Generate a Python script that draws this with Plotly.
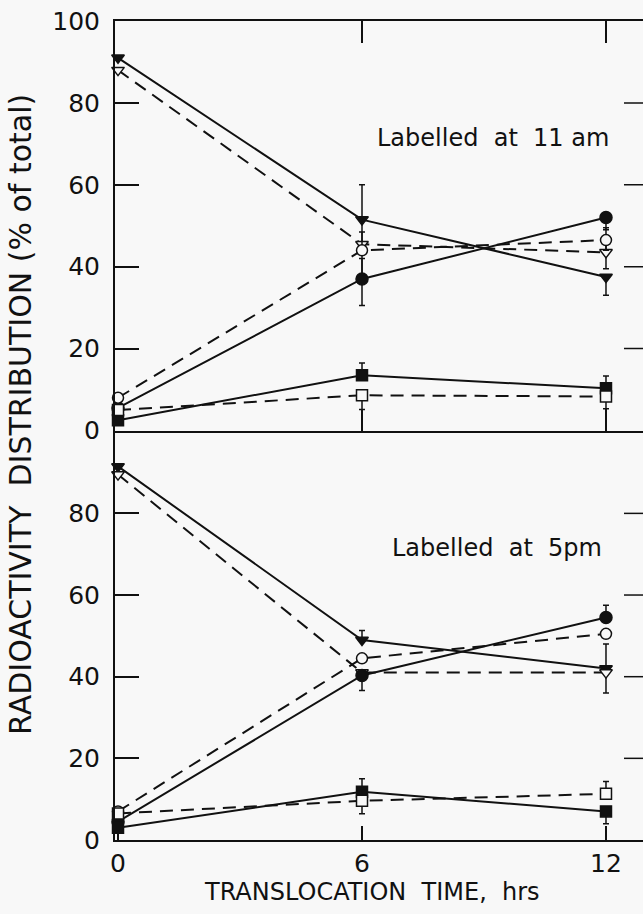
import plotly.graph_objects as go

# Sampling times (h after the end of the labelling period)
hours = [0, 6, 12]

# Panel 1 - labelled at 11 am (% of total radioactivity)
am_tri_filled = [91.0, 51.5, 37.5]
am_tri_open = [88.0, 45.5, 43.5]
am_circ_filled = [5.5, 37.0, 52.0]
am_circ_open = [8.0, 44.0, 46.5]
am_sq_filled = [2.5, 13.5, 10.3]
am_sq_open = [5.0, 8.6, 8.3]

am_tri_filled_up = [0, 8.5, 0]
am_tri_filled_dn = [0, 0, 4.5]
am_tri_open_up = [0, 3, 4]
am_tri_open_dn = [0, 0, 4]
am_circ_filled_up = [0, 5, 0]
am_circ_filled_dn = [0, 6.5, 3]
am_circ_open_up = [0, 8, 3]
am_circ_open_dn = [0, 6, 2.5]
am_sq_filled_up = [0, 3, 3]
am_sq_filled_dn = [0, 0, 0]
am_sq_open_up = [0, 0, 0]
am_sq_open_dn = [0, 3.5, 3]

# Panel 2 - labelled at 5 pm
pm_tri_filled = [91.5, 49.0, 42.0]
pm_tri_open = [89.5, 41.0, 41.0]
pm_circ_filled = [4.5, 40.3, 54.5]
pm_circ_open = [7.0, 44.5, 50.5]
pm_sq_filled = [3.0, 11.8, 7.0]
pm_sq_open = [6.5, 9.6, 11.3]

pm_tri_filled_up = [0, 2.3, 6]
pm_tri_filled_dn = [0, 0, 6]
pm_tri_open_up = [0, 0, 0]
pm_tri_open_dn = [0, 0, 0]
pm_circ_filled_up = [0, 0, 3]
pm_circ_filled_dn = [0, 3.7, 0]
pm_circ_open_up = [0, 0, 0]
pm_circ_open_dn = [0, 0, 0]
pm_sq_filled_up = [0, 3.2, 0]
pm_sq_filled_dn = [0, 0, 3]
pm_sq_open_up = [0, 3, 3]
pm_sq_open_dn = [0, 3.2, 0]

y_ticks_top = [0, 20, 40, 60, 80, 100]
y_ticks_bottom = [0, 20, 40, 60, 80]
y_ticks_right = [20, 40, 60, 80]
x_ticks = [0, 6, 12]

BG = "#f8f8f8"
INK = "#111111"
FONT = "DejaVu Sans"

fig = go.Figure()


def add_series(x_ax, y_ax, vals, up, dn, symbol, filled, size):
    fig.add_trace(go.Scatter(
        x=hours, y=vals, xaxis=x_ax, yaxis=y_ax,
        mode="lines+markers",
        line=dict(color=INK, width=2, dash="solid" if filled else "13px,8px"),
        marker=dict(symbol=symbol, size=size,
                    color=INK if filled else BG,
                    line=dict(color=INK, width=1.5)),
        error_y=dict(type="data", symmetric=False, array=up, arrayminus=dn,
                     color=INK, thickness=1.5, width=3),
        cliponaxis=False, showlegend=False, hoverinfo="skip",
    ))


panels = [
    ("x", "y", [
        (am_tri_filled, am_tri_filled_up, am_tri_filled_dn, "triangle-down", True, 11),
        (am_tri_open, am_tri_open_up, am_tri_open_dn, "triangle-down", False, 11),
        (am_circ_filled, am_circ_filled_up, am_circ_filled_dn, "circle", True, 12),
        (am_circ_open, am_circ_open_up, am_circ_open_dn, "circle", False, 11),
        (am_sq_filled, am_sq_filled_up, am_sq_filled_dn, "square", True, 11),
        (am_sq_open, am_sq_open_up, am_sq_open_dn, "square", False, 11),
    ]),
    ("x2", "y2", [
        (pm_tri_filled, pm_tri_filled_up, pm_tri_filled_dn, "triangle-down", True, 11),
        (pm_tri_open, pm_tri_open_up, pm_tri_open_dn, "triangle-down", False, 11),
        (pm_circ_filled, pm_circ_filled_up, pm_circ_filled_dn, "circle", True, 12),
        (pm_circ_open, pm_circ_open_up, pm_circ_open_dn, "circle", False, 11),
        (pm_sq_filled, pm_sq_filled_up, pm_sq_filled_dn, "square", True, 11),
        (pm_sq_open, pm_sq_open_up, pm_sq_open_dn, "square", False, 11),
    ]),
]

for xa, ya, series in panels:
    for vals, up, dn, sym, filled, size in series:
        add_series(xa, ya, vals, up, dn, sym, filled, size)

x_range = [-0.074, 12.91]
axis_common = dict(showgrid=False, zeroline=False, showline=True,
                   linecolor=INK, linewidth=2, ticks="inside",
                   tickcolor=INK, tickwidth=1.5,
                   tickfont=dict(family=FONT, size=25, color=INK))

# short inward tick marks along the right-hand edge of both panels
# (the frame's right edge itself falls outside the page)
right_tick_shapes = []
for yref, xdom in (("y", "x domain"), ("y2", "x2 domain")):
    for v in y_ticks_right:
        right_tick_shapes.append(dict(
            type="line", xref=xdom, yref=yref, x0=0.964, x1=1.0, y0=v, y1=v,
            line=dict(color=INK, width=1.5), layer="above"))

fig.update_layout(
    width=643, height=914,
    margin=dict(l=115, r=0, t=21, b=74),
    paper_bgcolor=BG, plot_bgcolor=BG,
    xaxis=dict(axis_common, domain=[0, 1], anchor="y", range=x_range,
               tickvals=[6, 12], ticklen=22, mirror="ticks",
               showticklabels=False),
    yaxis=dict(axis_common, domain=[0.5, 1], anchor="x", range=[0, 100],
               tickvals=y_ticks_top, ticktext=[str(v) for v in y_ticks_top],
               ticklen=24, mirror=False, ticklabelstandoff=8),
    xaxis2=dict(axis_common, domain=[0, 1], anchor="y2", range=x_range,
                tickvals=x_ticks, ticktext=[str(v) for v in x_ticks],
                ticklen=14, mirror=False, ticklabelstandoff=0),
    yaxis2=dict(axis_common, domain=[0, 0.5], anchor="x2", range=[0, 100.3],
                tickvals=y_ticks_bottom,
                ticktext=[str(v) for v in y_ticks_bottom],
                ticklen=24, mirror=False, ticklabelstandoff=8),
    shapes=right_tick_shapes,
    annotations=[
        dict(text="Labelled\u00a0 at\u00a0 11 am", x=0.716, y=0.857,
             xref="paper", yref="paper", showarrow=False,
             xanchor="center", yanchor="middle",
             font=dict(family=FONT, size=24, color=INK)),
        dict(text="Labelled\u00a0 at\u00a0 5pm", x=0.723, y=0.3565,
             xref="paper", yref="paper", showarrow=False,
             xanchor="center", yanchor="middle",
             font=dict(family=FONT, size=24, color=INK)),
        dict(text="RADIOACTIVITY\u00a0 DISTRIBUTION (% of total)",
             x=-0.178, y=0.519, xref="paper", yref="paper",
             showarrow=False, textangle=-90,
             xanchor="center", yanchor="middle",
             font=dict(family=FONT, size=30, color=INK)),
        dict(text="TRANSLOCATION\u00a0 TIME,\u00a0 hrs",
             x=0.487, y=-0.0635, xref="paper", yref="paper",
             showarrow=False, xanchor="center", yanchor="middle",
             font=dict(family=FONT, size=24, color=INK)),
    ],
)

fig.write_html("out.html")
